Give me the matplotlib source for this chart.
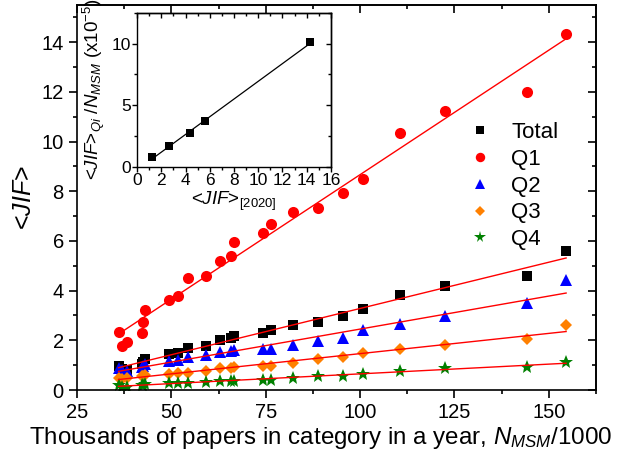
import numpy as np
import matplotlib
matplotlib.use('Agg')
import matplotlib.pyplot as plt
from matplotlib.ticker import MultipleLocator

plt.rcParams['font.family'] = ['Liberation Sans', 'DejaVu Sans']
plt.rcParams['mathtext.fontset'] = 'custom'
plt.rcParams['mathtext.rm'] = 'Liberation Sans'
plt.rcParams['mathtext.it'] = 'Liberation Sans:italic'

# papers per category per year (thousands)
n_msm = [36.0, 36.9, 38.3, 42.2, 42.4, 43.1, 49.4, 51.7, 54.5, 59.3, 62.9, 65.9,
         66.7, 74.4, 76.5, 82.3, 88.9, 95.6, 100.8, 110.5, 122.6, 144.2, 154.6]

jif_total = [0.95, 0.85, 0.80, 1.05, 1.12, 1.25, 1.43, 1.51, 1.70, 1.76, 2.00, 2.08,
             2.19, 2.30, 2.41, 2.62, 2.73, 2.97, 3.25, 3.82, 4.18, 4.57, 5.59]
jif_q1 = [2.32, 1.77, 1.94, 2.29, 2.74, 3.23, 3.63, 3.79, 4.50, 4.60, 5.21, 5.40,
          5.94, 6.34, 6.68, 7.15, 7.33, 7.93, 8.51, 10.35, 11.25, 11.99, 14.33]
jif_q2 = [0.88, 0.80, 0.75, 0.92, 0.98, 1.05, 1.17, 1.22, 1.34, 1.42, 1.55, 1.58,
          1.62, 1.65, 1.65, 1.81, 1.98, 2.11, 2.42, 2.66, 2.98, 3.49, 4.43]
jif_q3 = [0.50, 0.45, 0.47, 0.55, 0.57, 0.62, 0.65, 0.70, 0.70, 0.78, 0.88, 0.90,
          0.92, 0.95, 0.98, 1.07, 1.24, 1.32, 1.51, 1.67, 1.81, 2.04, 2.62]
jif_q4 = [0.22, 0.14, 0.13, 0.20, 0.22, 0.24, 0.28, 0.29, 0.30, 0.33, 0.35, 0.36,
          0.37, 0.39, 0.42, 0.50, 0.56, 0.58, 0.64, 0.78, 0.87, 0.94, 1.14]

# inset: slope of <JIF> vs N_MSM against the 2020 mean JIF
inset_jif2020 = [1.2, 2.67, 4.37, 5.63, 14.3]
inset_slope = [0.78, 1.70, 2.72, 3.75, 10.09]

series = [
    ('Total', jif_total, 's', 'black', 7),
    ('Q1', jif_q1, 'o', '#ff0000', 8),
    ('Q2', jif_q2, '^', '#0000ff', 8.5),
    ('Q3', jif_q3, 'D', '#ff8000', 6.5),
    ('Q4', jif_q4, '*', '#008000', 10),
]


def mirror_ticks(ax, xmaj, xmin, ymaj, ymin, major_len, minor_len, width):
    # Origin style: ticks out on bottom/left, in on top/right
    ax.tick_params(which='both', direction='out', width=width)
    ax.tick_params(which='major', length=major_len)
    ax.tick_params(which='minor', length=minor_len)
    top = ax.secondary_xaxis('top')
    top.xaxis.set_major_locator(MultipleLocator(xmaj))
    top.xaxis.set_minor_locator(MultipleLocator(xmin))
    top.tick_params(which='both', direction='in', labeltop=False, width=width)
    top.tick_params(which='major', length=major_len)
    top.tick_params(which='minor', length=minor_len)
    right = ax.secondary_yaxis('right')
    right.yaxis.set_major_locator(MultipleLocator(ymaj))
    right.yaxis.set_minor_locator(MultipleLocator(ymin))
    right.tick_params(which='both', direction='in', labelright=False, width=width)
    right.tick_params(which='major', length=major_len)
    right.tick_params(which='minor', length=minor_len)
    for sec in (top, right):
        for sp in sec.spines.values():
            sp.set_linewidth(width)


fig = plt.figure(figsize=(6.24, 4.59), dpi=100)
ax = fig.add_axes([0.1234, 0.1503, 0.8316, 0.8388])

x = np.array(n_msm)
for name, vals, mk, col, ms in series:
    ax.plot(x, vals, linestyle='none', marker=mk, color=col, markersize=ms,
            markeredgewidth=0, label=name)

# linear fits
xfit = np.array([x.min(), x.max()])
for name, vals, mk, col, ms in series:
    k, b = np.polyfit(x, vals, 1)
    ax.plot(xfit, k * xfit + b, color='#ff0000', linewidth=1.0)

ax.set_xlim(25, 162.5)
ax.set_ylim(0, 15.5)
ax.xaxis.set_major_locator(MultipleLocator(25))
ax.xaxis.set_minor_locator(MultipleLocator(12.5))
ax.yaxis.set_major_locator(MultipleLocator(2))
ax.yaxis.set_minor_locator(MultipleLocator(1))
ax.tick_params(labelsize=14.5)
for sp in ax.spines.values():
    sp.set_linewidth(1.2)
mirror_ticks(ax, 25, 12.5, 2, 1, 6, 3, 1.2)

ax.set_xlabel(r'Thousands of papers in category in a year, $N_{MSM}$/1000', fontsize=17.4, labelpad=2)
ax.xaxis.label.set_x(0.47)
ax.set_ylabel(r'<$JIF$>', fontsize=18, labelpad=4)

leg = ax.legend(loc='upper left', bbox_to_anchor=(0.727, 0.768), bbox_transform=fig.transFigure,
                frameon=False, fontsize=16, handletextpad=0.9, labelspacing=0.26,
                handlelength=1.0, borderpad=0.2)
for h in leg.legend_handles:
    h.set_markersize(h.get_markersize() * 0.85)

# inset
ins = fig.add_axes([0.2196, 0.6362, 0.3108, 0.3361])
xi = np.array(inset_jif2020)
ins.plot(xi, inset_slope, linestyle='none', marker='s', color='black', markersize=5.5,
         markeredgewidth=0)
k, b = np.polyfit(xi, inset_slope, 1)
xl = np.array([xi.min(), xi.max()])
ins.plot(xl, k * xl + b, color='black', linewidth=0.9)
ins.set_xlim(0, 16)
ins.set_ylim(0, 12.5)
ins.xaxis.set_major_locator(MultipleLocator(2))
ins.xaxis.set_minor_locator(MultipleLocator(1))
ins.yaxis.set_major_locator(MultipleLocator(5))
ins.yaxis.set_minor_locator(MultipleLocator(2.5))
ins.tick_params(labelsize=12.5, pad=1)
for sp in ins.spines.values():
    sp.set_linewidth(1.0)
mirror_ticks(ins, 2, 1, 5, 2.5, 3.5, 2, 1.0)
ins.set_xlabel(r'<$JIF$>$_{\mathrm{[2020]}}$', fontsize=13.5, labelpad=1)
ins.set_ylabel(r'<$JIF$>$_{Qi}$ /$N_{MSM}$ (x10$^{-5}$)', fontsize=13.5, labelpad=3)

fig.savefig('out.png', dpi=100)
